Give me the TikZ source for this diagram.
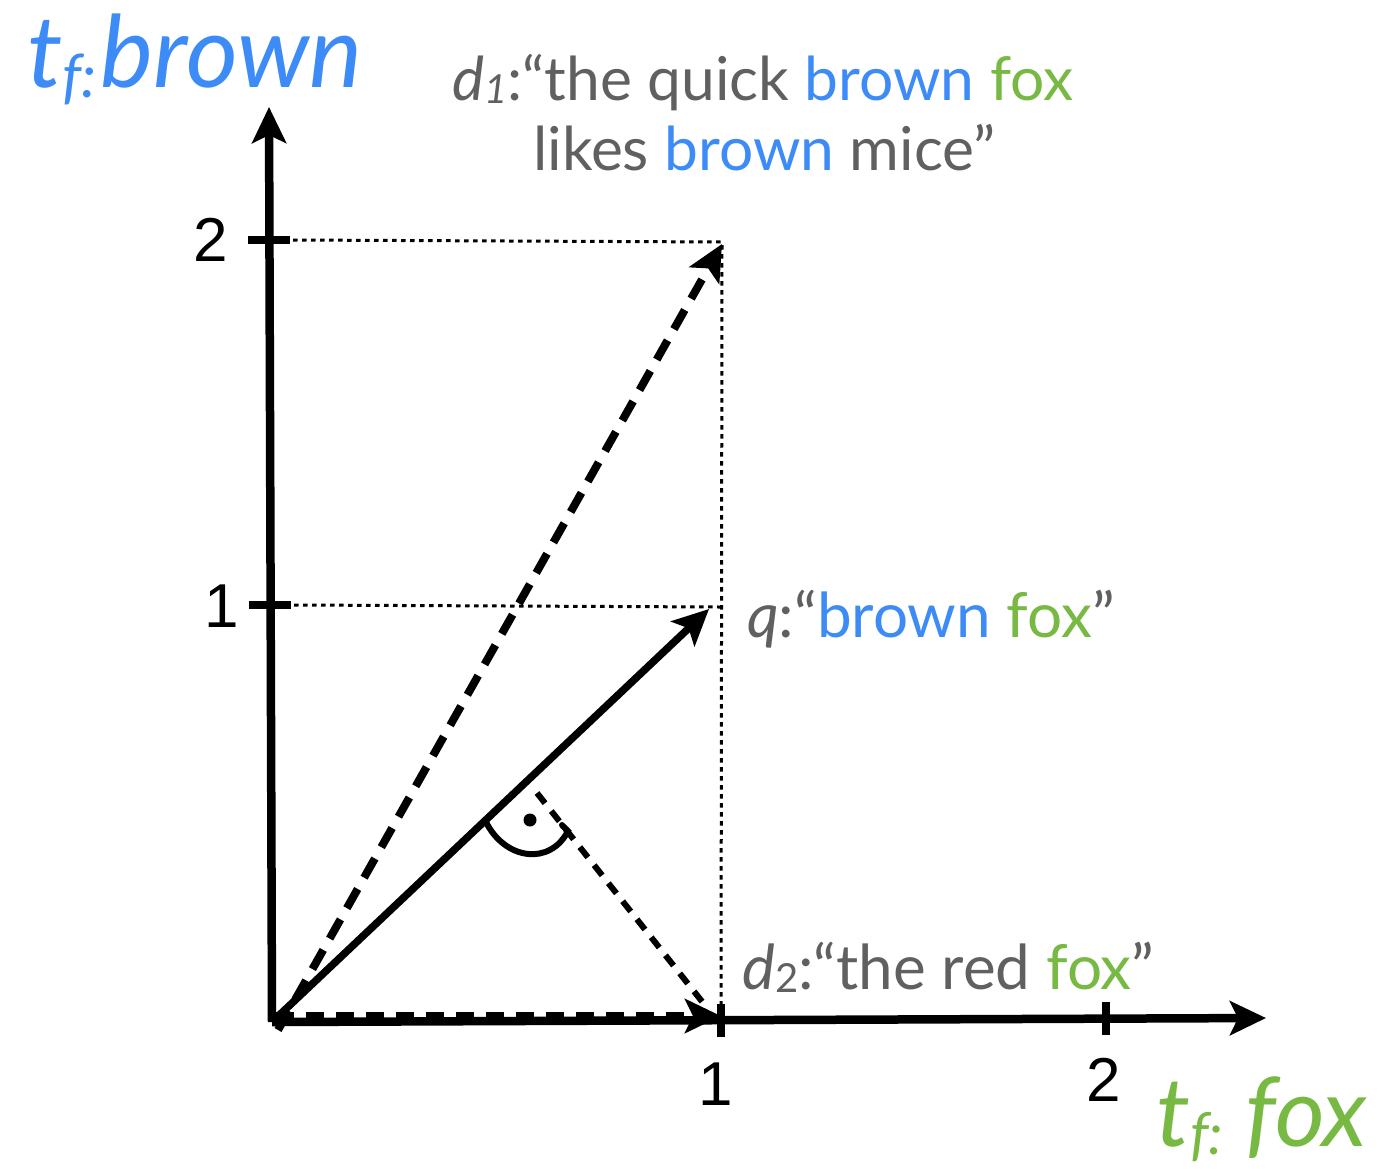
\documentclass[tikz,border=0pt]{standalone}
\usepackage{fontspec}
\setmainfont{Lato}
\newfontfamily\digitfont{Liberation Sans}
\usetikzlibrary{arrows.meta}
\definecolor{tblue}{HTML}{3D8BF7}
\definecolor{tgreen}{HTML}{77B942}
\definecolor{tgray}{HTML}{606060}
\tikzset{
  tip/.style={-{Stealth[length=36pt,width=34pt,inset=8pt]}},
  axisline/.style={line width=8.5pt,tip},
  tickmark/.style={line width=8pt},
  guide/.style={line width=3pt,dash pattern=on 4.5pt off 4.5pt},
  vecsolid/.style={line width=7.5pt,tip},
  vecdash/.style={line width=8pt,dash pattern=on 22pt off 13pt,tip},
  projdash/.style={line width=6pt,dash pattern=on 13pt off 10pt},
  digit/.style={font=\digitfont\fontsize{62}{70}\selectfont,inner sep=0pt},
  doctext/.style={font=\fontsize{62}{70}\selectfont,text=tgray,inner sep=0pt,anchor=base west},
  axtitle/.style={font=\itshape\fontsize{100}{110}\selectfont,inner sep=0pt,anchor=base west}
}
\begin{document}
\begin{tikzpicture}[x=1pt,y=-1pt]
\useasboundingbox (0,0) rectangle (1391,1168);
% key points
\coordinate (O) at (272,1022);
\coordinate (YT) at (269,107);
\coordinate (XT) at (1266,1018);
\coordinate (Y1) at (270,605);
\coordinate (Y2) at (269,240);
\coordinate (X1) at (721,1020);
\coordinate (X2) at (1106,1018);
\coordinate (C2) at (722,242);
\coordinate (C1) at (721,607);
\coordinate (D1) at (722,244);
\coordinate (Q) at (709,609);
\coordinate (D2) at (721,1016);
\coordinate (O2) at (276,1016);
\coordinate (PS) at (537,793);
\coordinate (PE) at (704,1004);
\coordinate (AS) at (486,822);
\coordinate (AE) at (568,831);
% guides
\draw[guide] ([xshift=24pt]Y2) -- (C2) -- ([yshift=-8pt]X1);
\draw[guide] ([xshift=24pt]Y1) -- (C1);
% axes
\draw[axisline] (O) -- (YT);
\draw[axisline] (O) -- (XT);
\draw[tickmark] ([xshift=-21pt]Y2) -- ([xshift=21pt]Y2);
\draw[tickmark] ([xshift=-21pt]Y1) -- ([xshift=21pt]Y1);
\draw[tickmark] ([yshift=-17pt]X1) -- ([yshift=16pt]X1);
\draw[tickmark] ([yshift=-17pt]X2) -- ([yshift=16pt]X2);
% vectors
\draw[vecdash] ([shift={(6pt,-8pt)}]O) -- (D1);
\draw[vecsolid] (O) -- (Q);
\draw[vecdash,dash pattern=on 18pt off 12pt] (O2) -- (D2);
\draw[projdash] (PS) -- (PE);
% right angle mark
\draw[line width=6pt,line cap=round] (AS) .. controls (505,860) and (550,866) .. (AE) -- (562,825);
\fill (530,820) circle (6.5pt);
% tick labels
\node[digit] (ly2) at (211,240) {2};
\node[digit] (ly1) at (222,606) {1};
\node[digit] (lx1) at (716,1084) {1};
\node[digit] (lx2) at (1104,1080) {2};
% axis titles
\node[axtitle,text=tblue] (tyb) at (27,87) {t\raisebox{-10pt}{\fontsize{60}{62}\selectfont f:}\kern4pt brown};
\node[axtitle,text=tgreen,font=\itshape\fontsize{96}{106}\selectfont] (txf) at (1156,1146) {t\raisebox{-8pt}{\fontsize{58}{60}\selectfont f:} fox};
% document labels
\node[doctext,font=\fontsize{60.5}{70}\selectfont] (d1a) at (452,100) {\textit{d}\raisebox{-3pt}{\fontsize{40}{44}\selectfont\textit{1}}:“the quick \textcolor{tblue}{brown} \textcolor{tgreen}{fox}};
\node[doctext,font=\fontsize{60.5}{70}\selectfont] (d1b) at (533,170) {likes \textcolor{tblue}{brown} mice”};
\node[doctext] (ql) at (747,637) {\textit{q}:“\textcolor{tblue}{brown} \textcolor{tgreen}{fox}”};
\node[doctext] (d2l) at (742,989) {\textit{d}\raisebox{-3pt}{\fontsize{40}{44}\selectfont 2}:“the red \textcolor{tgreen}{fox}”};
\end{tikzpicture}
\end{document}
